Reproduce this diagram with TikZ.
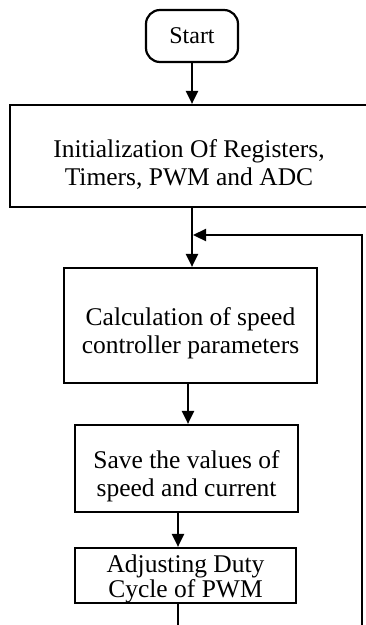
\documentclass[tikz,border=0pt]{standalone}
\usepackage{fontspec}
\setmainfont{Liberation Serif}
\usetikzlibrary{arrows.meta}

\tikzset{
  block/.style={draw,line width=2.2pt,inner sep=0pt},
  caption/.style={align=center,inner sep=0pt,yshift=-8pt,
    font=\fontsize{25.5}{28}\selectfont},
  tight/.style={align=center,inner sep=0pt,yshift=-3pt,
    font=\fontsize{25.5}{25}\selectfont},
  terminal/.style={draw,line width=2.2pt,inner sep=0pt,rounded corners=14pt,
    font=\fontsize{24}{28}\selectfont},
  flow/.style={line width=2.2pt,-{Triangle[length=13pt,width=12pt]}},
  wire/.style={line width=2.2pt}
}

\begin{document}
\begin{tikzpicture}[x=1pt,y=-1pt]
\useasboundingbox (0,0) rectangle (366,625);

\node[terminal,minimum width=92pt,minimum height=52pt] (start) at (192,36) {Start};
\node[block,minimum width=358pt,minimum height=102pt,
  label={[caption]center:Initialization Of Registers,\\Timers, PWM and ADC}]
  (init) at (189,156) {};
\node[block,minimum width=253pt,minimum height=115pt,
  label={[caption]center:Calculation of speed\\controller parameters}]
  (calc) at (190.5,325.5) {};
\node[block,minimum width=223pt,minimum height=87pt,
  label={[caption]center:Save the values of\\speed and current}]
  (save) at (186.5,468.5) {};
\node[block,minimum width=221pt,minimum height=55pt,
  label={[tight]center:Adjusting Duty\\Cycle of PWM}]
  (duty) at (185.5,575.5) {};

\coordinate (join) at (192,235);
\coordinate (mid) at (188,400);
\coordinate (low) at (178,530);
\coordinate (out) at (178,625);
\coordinate (back) at (362,625);

\draw[flow] (start.south) -- (start.south |- init.north);
\draw[wire] (join |- init.south) -- (join);
\draw[flow] (join) -- (join |- calc.north);
\draw[flow] (mid |- calc.south) -- (mid |- save.north);
\draw[flow] (low |- save.south) -- (low |- duty.north);
\draw[wire] (out |- duty.south) -- (out);

% loop back to the controller
\draw[flow] (back) -- (back |- join) -- ([xshift=1pt]join);
\end{tikzpicture}
\end{document}
